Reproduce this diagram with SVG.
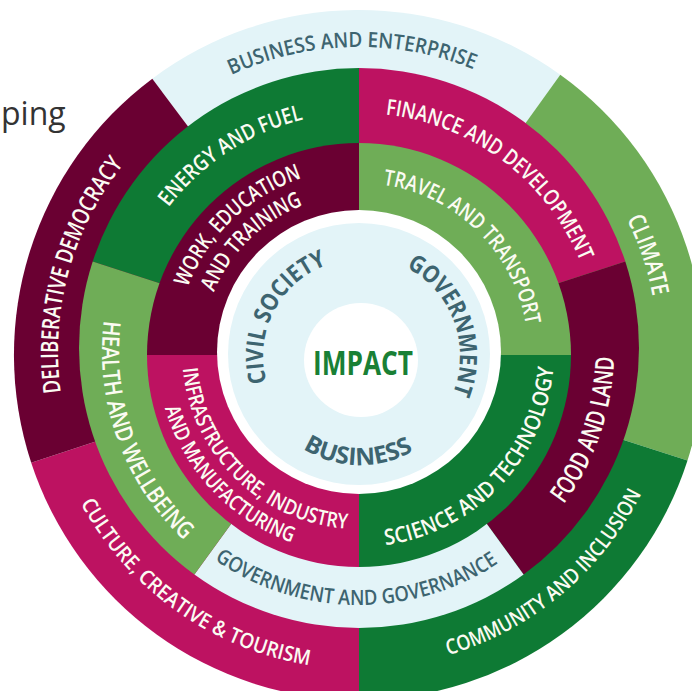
<svg xmlns="http://www.w3.org/2000/svg" xmlns:xlink="http://www.w3.org/1999/xlink" width="692" height="691" viewBox="0 0 692 691">
<style>
.mar{fill:#6a0032}.mag{fill:#bd1261}.dg{fill:#0e7a34}.lg{fill:#6fad57}.lb{fill:#e3f4f8}.wh{fill:#ffffff}
.lab{font-family:"Open Sans","DejaVu Sans",sans-serif;font-weight:600;text-anchor:middle}
.w{fill:#fbfbf2}.tl{fill:#3d6470}.hb{font-weight:700}
</style>
<defs>
<path id="p1" d="M157.5,123.0 A305,305 0 0 1 549.6,113.9"/>
<path id="p2" d="M556.9,127.9 A299,299 0 0 1 652.0,411.4"/>
<path id="p3" d="M358.5,668 A316,316 0 0 0 670.1,407.4"/>
<path id="p4" d="M52.5,432.7 A317,317 0 0 0 385.2,667.9"/>
<path id="p5" d="M85.3,477.3 A301,301 0 0 1 188.1,104.2"/>
<path id="p6" d="M130.3,282.5 A239,239 0 0 1 387.7,114.7"/>
<path id="p7" d="M325.9,115.3 A239,239 0 0 1 595.7,318.9"/>
<path id="p8" d="M490.9,570.3 A255,255 0 0 0 596.8,260.0"/>
<path id="p9" d="M178.0,528.8 A253,253 0 0 0 535.8,532.9"/>
<path id="p10" d="M117.4,264.3 A257,257 0 0 0 230.7,574.7"/>
<path id="p11a" d="M177.1,332.2 A183,183 0 0 1 346.9,169.4"/>
<path id="p11b" d="M202.8,336.4 A157,157 0 0 1 347.2,195.4"/>
<path id="p12" d="M357.5,183.0 A169,169 0 0 1 528.0,350.5"/>
<path id="p13" d="M364.6,546.9 A195,195 0 0 0 553.9,346.4"/>
<path id="p14a" d="M182.0,354.3 A177,177 0 0 0 361.3,529.0"/>
<path id="p14b" d="M157.3,363.6 A202,202 0 0 0 335.4,552.6"/>
<path id="p15" d="M270.6,393.6 A97,97 0 0 1 338.5,261.4"/>
<path id="p16" d="M393.8,261.9 A100,100 0 0 1 446.8,405.6"/>
<path id="p17" d="M275.1,424.4 A109,109 0 0 0 442.1,427.8"/>
</defs>
<rect width="692" height="691" fill="#ffffff"/>
<text x="1" y="125" font-family="'Open Sans','DejaVu Sans',sans-serif" font-size="32" fill="#333333">ping</text>

<g id="outer-ring">
<g id="business-enterprise">
<path class="lb" d="M359,355 L152.3,78.7 A345,345 0 0 1 560.3,74.8 Z"/>
<text class="lab tl" font-size="21"><textPath xlink:href="#p1" href="#p1" startOffset="50%" textLength="249" lengthAdjust="spacingAndGlyphs">BUSINESS AND ENTERPRISE</textPath></text>
</g>
<g id="climate">
<path class="lg" d="M359,355 L560.3,74.8 A345,345 0 0 1 687.5,460.5 Z"/>
<text class="lab w" font-size="24"><textPath xlink:href="#p2" href="#p2" startOffset="50%" textLength="82" lengthAdjust="spacingAndGlyphs">CLIMATE</textPath></text>
</g>
<g id="community-inclusion">
<path class="dg" d="M359,355 L687.5,460.5 A345,345 0 0 1 359,700 Z"/>
<text class="lab w" font-size="21"><textPath xlink:href="#p3" href="#p3" startOffset="50%" textLength="259" lengthAdjust="spacingAndGlyphs">COMMUNITY AND INCLUSION</textPath></text>
</g>
<g id="culture-creative-tourism">
<path class="mag" d="M359,355 L359,700 A345,345 0 0 1 31.2,462.7 Z"/>
<text class="lab w" font-size="21"><textPath xlink:href="#p4" href="#p4" startOffset="50%" textLength="290" lengthAdjust="spacingAndGlyphs">CULTURE, CREATIVE &amp; TOURISM</textPath></text>
</g>
<g id="deliberative-democracy">
<path class="mar" d="M359,355 L31.2,462.7 A345,345 0 0 1 152.3,78.7 Z"/>
<text class="lab w" font-size="24"><textPath xlink:href="#p5" href="#p5" startOffset="50%" textLength="243" lengthAdjust="spacingAndGlyphs">DELIBERATIVE DEMOCRACY</textPath></text>
</g>
</g>

<g id="middle-ring">
<g id="energy-fuel">
<path class="dg" d="M359,348 L92.7,261.5 A280,280 0 0 1 359,68 Z"/>
<text class="lab w" font-size="22"><textPath xlink:href="#p6" href="#p6" startOffset="50%" textLength="164" lengthAdjust="spacingAndGlyphs">ENERGY AND FUEL</textPath></text>
</g>
<g id="finance-development">
<path class="mag" d="M359,348 L359,68 A280,280 0 0 1 625.3,261.5 Z"/>
<text class="lab w" font-size="22"><textPath xlink:href="#p7" href="#p7" startOffset="50%" textLength="256" lengthAdjust="spacingAndGlyphs">FINANCE AND DEVELOPMENT</textPath></text>
</g>
<g id="food-land">
<path class="mar" d="M359,348 L625.3,261.5 A280,280 0 0 1 523.6,574.5 Z"/>
<text class="lab w" font-size="26"><textPath xlink:href="#p8" href="#p8" startOffset="50%" textLength="158" lengthAdjust="spacingAndGlyphs">FOOD AND LAND</textPath></text>
</g>
<g id="government-governance">
<path class="lb" d="M359,348 L523.6,574.5 A280,280 0 0 1 194.4,574.5 Z"/>
<text class="lab tl" font-size="21"><textPath xlink:href="#p9" href="#p9" startOffset="50%" textLength="301" lengthAdjust="spacingAndGlyphs">GOVERNMENT AND GOVERNANCE</textPath></text>
</g>
<g id="health-wellbeing">
<path class="lg" d="M359,348 L194.4,574.5 A280,280 0 0 1 92.7,261.5 Z"/>
<text class="lab w" font-size="24"><textPath xlink:href="#p10" href="#p10" startOffset="50%" textLength="243" lengthAdjust="spacingAndGlyphs">HEALTH AND WELLBEING</textPath></text>
</g>
</g>

<g id="inner-ring">
<g id="work-education-training">
<path class="mar" d="M359,355 L147,355 A212,212 0 0 1 359,143 Z"/>
<text class="lab w" font-size="22"><textPath xlink:href="#p11a" href="#p11a" startOffset="50%" textLength="163" lengthAdjust="spacingAndGlyphs">WORK, EDUCATION</textPath></text>
<text class="lab w" font-size="22"><textPath xlink:href="#p11b" href="#p11b" startOffset="50%" textLength="128" lengthAdjust="spacingAndGlyphs">AND TRAINING</textPath></text>
</g>
<g id="travel-transport">
<path class="lg" d="M359,355 L359,143 A212,212 0 0 1 571,355 Z"/>
<text class="lab w" font-size="22"><textPath xlink:href="#p12" href="#p12" startOffset="50%" textLength="214" lengthAdjust="spacingAndGlyphs">TRAVEL AND TRANSPORT</textPath></text>
</g>
<g id="science-technology">
<path class="dg" d="M359,355 L571,355 A212,212 0 0 1 359,567 Z"/>
<text class="lab w" font-size="22"><textPath xlink:href="#p13" href="#p13" startOffset="50%" textLength="264" lengthAdjust="spacingAndGlyphs">SCIENCE AND TECHNOLOGY</textPath></text>
</g>
<g id="infrastructure-industry-manufacturing">
<path class="mag" d="M359,355 L359,567 A212,212 0 0 1 147,355 Z"/>
<text class="lab w" font-size="21"><textPath xlink:href="#p14a" href="#p14a" startOffset="50%" textLength="250" lengthAdjust="spacingAndGlyphs">INFRASTRUCTURE, INDUSTRY</textPath></text>
<text class="lab w" font-size="21"><textPath xlink:href="#p14b" href="#p14b" startOffset="50%" textLength="192" lengthAdjust="spacingAndGlyphs">AND MANUFACTURING</textPath></text>
</g>
</g>

<g id="hub">
<circle class="wh" cx="359" cy="352" r="142"/>
<circle class="lb" cx="359" cy="354" r="131"/>
<g id="civil-society">
<text class="lab tl hb" font-size="24"><textPath xlink:href="#p15" href="#p15" startOffset="50%" textLength="145" lengthAdjust="spacingAndGlyphs">CIVIL SOCIETY</textPath></text>
</g>
<g id="government">
<text class="lab tl hb" font-size="24"><textPath xlink:href="#p16" href="#p16" startOffset="50%" textLength="147" lengthAdjust="spacingAndGlyphs">GOVERNMENT</textPath></text>
</g>
<g id="business">
<text class="lab tl hb" font-size="24"><textPath xlink:href="#p17" href="#p17" startOffset="50%" textLength="116" lengthAdjust="spacingAndGlyphs">BUSINESS</textPath></text>
</g>
<g id="impact">
<circle class="wh" cx="361" cy="360" r="57"/>
<text class="lab hb" x="363" y="375" font-size="34" fill="#198035" textLength="100" lengthAdjust="spacingAndGlyphs">IMPACT</text>
</g>
</g>
</svg>
